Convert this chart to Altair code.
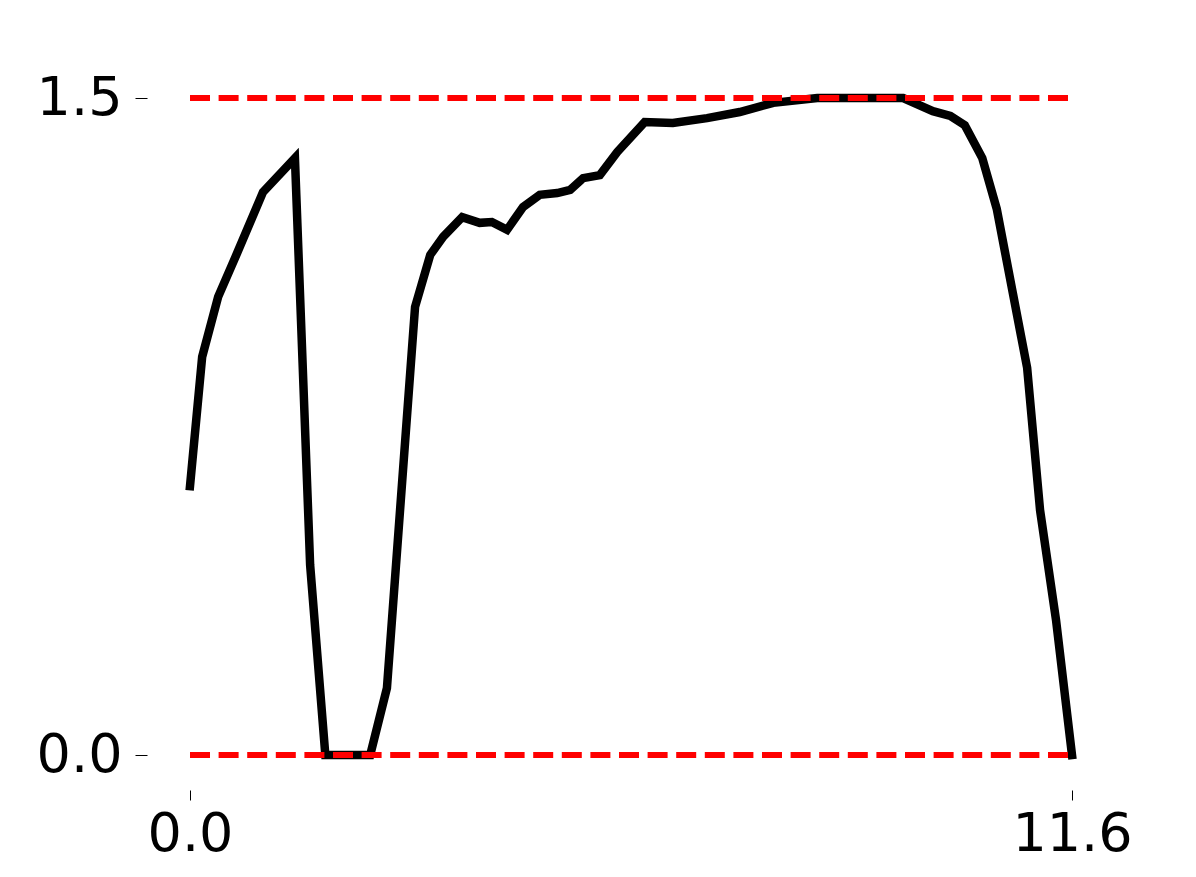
import altair as alt
import pandas as pd

# --- data ---
x_vals = [0.0, 0.16, 0.37, 0.62, 0.96, 1.38, 1.58, 1.78, 2.37, 2.59, 2.96, 3.16, 3.33,
          3.58, 3.81, 3.97, 4.17, 4.38, 4.60, 4.83, 5.00, 5.17, 5.39, 5.62, 5.98, 6.35,
          6.80, 7.23, 7.67, 8.25, 9.38, 9.77, 10.0, 10.19, 10.42, 10.61, 11.01, 11.18,
          11.39, 11.6]
y_vals = [0.614, 0.909, 1.046, 1.146, 1.285, 1.363, 0.434, 0.0, 0.0, 0.153, 1.023, 1.142,
          1.183, 1.228, 1.215, 1.217, 1.199, 1.251, 1.279, 1.283, 1.290, 1.317, 1.324,
          1.377, 1.445, 1.443, 1.454, 1.468, 1.489, 1.5, 1.5, 1.470, 1.459, 1.438, 1.363,
          1.247, 0.884, 0.559, 0.308, 0.0]
ref_levels = [0.0, 1.5]
ref_start = [0.0, 0.0]
ref_end = [11.6, 11.6]
x_ticks = [0.0, 11.6]
y_ticks = [0.0, 1.5]

df = pd.DataFrame({"i": list(range(len(x_vals))), "x": x_vals, "y": y_vals})
ref = pd.DataFrame({"y": ref_levels, "x0": ref_start, "x1": ref_end})

xscale = alt.Scale(domain=[0, 11.6], nice=False, zero=False)
yscale = alt.Scale(domain=[0, 1.5], nice=False, zero=False)

xaxis = alt.Axis(values=x_ticks, format=".1f", title=None, offset=35, tickSize=10,
                 labelPadding=7, labelFlush=False, labelOverlap=False)
yaxis = alt.Axis(values=y_ticks, format=".1f", title=None, offset=43, tickSize=12,
                 labelPadding=13, labelOverlap=False)

line = alt.Chart(df).mark_line(color="black", strokeWidth=8.5, strokeCap="square").encode(
    x=alt.X("x:Q", scale=xscale, axis=xaxis),
    y=alt.Y("y:Q", scale=yscale, axis=yaxis),
    order="i:Q",
)

rules = alt.Chart(ref).mark_rule(color="#ff0000", strokeWidth=6, strokeDash=[20, 8.6]).encode(
    x=alt.X("x0:Q", scale=xscale, axis=xaxis),
    x2="x1:Q",
    y=alt.Y("y:Q", scale=yscale, axis=yaxis),
)

chart = alt.layer(line, rules).properties(
    width=882,
    height=657,
    autosize=alt.AutoSizeParams(type="none"),
    padding={"left": 182, "top": 90, "right": 106, "bottom": 114},
).configure_view(stroke=None).configure_axis(
    domain=False,
    grid=False,
    tickColor="black",
    tickWidth=1,
    labelFont="DejaVu Sans",
    labelFontSize=54,
    labelColor="black",
)

chart.save("out.html", embed_options={"renderer": "svg", "actions": False})
